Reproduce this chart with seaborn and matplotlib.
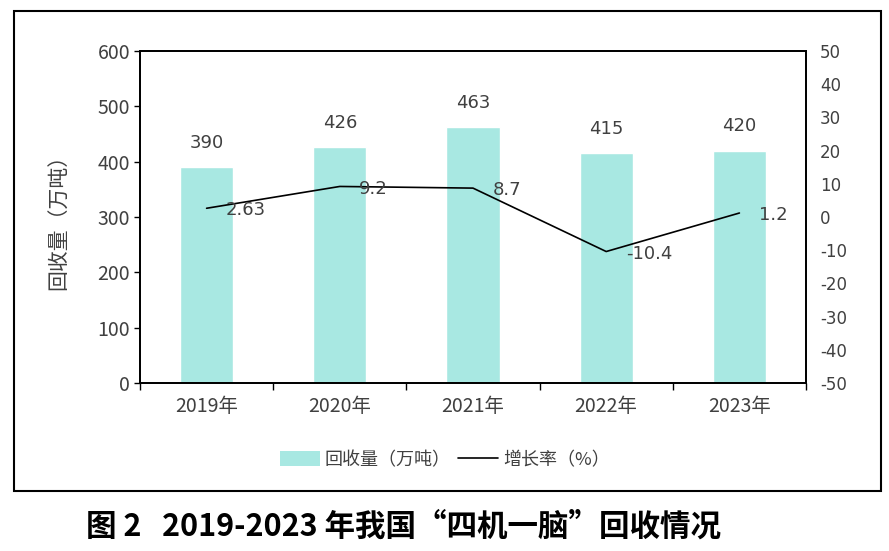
import pandas as pd
import seaborn as sns
import matplotlib.pyplot as plt
from matplotlib.patches import Rectangle, Patch
from matplotlib.lines import Line2D
from matplotlib.ticker import FixedLocator

# 数据
years = ['2019年', '2020年', '2021年', '2022年', '2023年']
recycle = [390, 426, 463, 415, 420]          # 回收量（万吨）
growth = [2.63, 9.2, 8.7, -10.4, 1.2]        # 增长率（%）
growth_labels = ['2.63', '9.2', '8.7', '-10.4', '1.2']

sns.set_theme(style='white')
plt.rcParams['font.family'] = ['Noto Sans CJK SC', 'DejaVu Sans']
plt.rcParams['axes.unicode_minus'] = False

bar_color = '#A8E8E2'
text_color = '#404040'

df = pd.DataFrame({'年份': years, '回收量': recycle, '增长率': growth})

fig = plt.figure(figsize=(8.89, 5.51), dpi=100)
ax1 = fig.add_axes([140 / 889, 1 - 383 / 551, 666 / 889, 332 / 551])

# 外框
fig.patches.append(Rectangle((14 / 889, 1 - 491 / 551), 867 / 889, 480 / 551,
                             transform=fig.transFigure, fill=False,
                             edgecolor='black', linewidth=1.5))

# 柱状图
sns.barplot(data=df, x='年份', y='回收量', color=bar_color, width=0.4,
            saturation=1, ax=ax1)
ax1.set_ylim(0, 600)
ax1.set_yticks(range(0, 601, 100))
ax1.set_xlim(-0.5, 4.5)
ax1.set_xlabel('')
ax1.set_ylabel('回收量（万吨）', fontsize=15, color=text_color, labelpad=20)
for i, v in enumerate(recycle):
    ax1.annotate(str(v), (i, v), xytext=(0, 11), textcoords='offset points',
                 ha='center', va='bottom', fontsize=13, color=text_color,
                 family='DejaVu Sans')

# 折线图
ax2 = ax1.twinx()
sns.lineplot(data=df, x='年份', y='增长率', color='black', linewidth=1.2,
             ax=ax2, sort=False)
ax2.set_ylim(-50, 50)
ax2.set_yticks(range(-50, 51, 10))
ax2.set_ylabel('')
for i, v in enumerate(growth):
    ax2.annotate(growth_labels[i], (i, v), xytext=(14, -1.5), textcoords='offset points',
                 ha='left', va='center', fontsize=13, color=text_color,
                 family='DejaVu Sans')

# 刻度样式
ax1.tick_params(axis='y', which='major', left=True, length=4, width=1,
                labelsize=14, labelcolor=text_color, pad=3, color='black')
ax1.tick_params(axis='x', which='major', length=0, labelsize=14,
                labelcolor=text_color, pad=9)
ax1.xaxis.set_minor_locator(FixedLocator([-0.5, 0.5, 1.5, 2.5, 3.5, 4.5]))
ax1.tick_params(axis='x', which='minor', bottom=True, length=5, width=1, color='black')
ax2.tick_params(axis='y', right=True, length=0, labelsize=12,
                labelcolor=text_color, pad=10)
for lab in ax2.get_yticklabels():
    lab.set_family('DejaVu Sans')

for ax in (ax1, ax2):
    for s in ax.spines.values():
        s.set_visible(True)
        s.set_color('black')
        s.set_linewidth(1.3)

# 图例
handles = [Patch(facecolor=bar_color, edgecolor='none', label='回收量（万吨）'),
           Line2D([0], [0], color='black', linewidth=1.2, label='增长率（%）')]
fig.legend(handles=handles, loc='center', bbox_to_anchor=(445 / 889, 1 - 460 / 551),
           ncol=2, frameon=False, fontsize=13, labelcolor=text_color,
           handlelength=2.2, handleheight=0.9, columnspacing=0.4, handletextpad=0.3)

# 图题
fig.text(404 / 889, 1 - 527 / 551, '图 2   2019-2023 年我国“四机一脑”回收情况',
         ha='center', va='center', fontsize=22, fontweight='bold', color='black')

fig.savefig('out.png', dpi=100)
